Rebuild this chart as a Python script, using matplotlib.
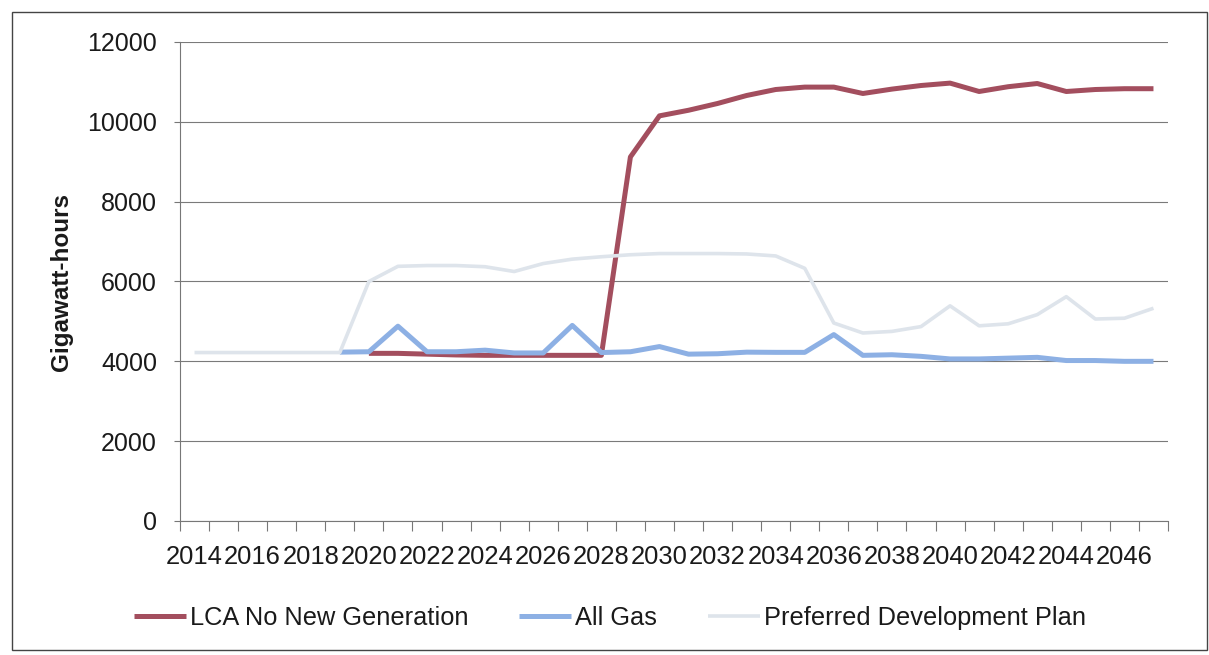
import numpy as np
import matplotlib
matplotlib.use("Agg")
import matplotlib.pyplot as plt
from matplotlib.patches import Rectangle
from matplotlib.ticker import FixedLocator

plt.rcParams["font.family"] = ["Liberation Sans", "DejaVu Sans"]

nan = np.nan
years = list(range(2014, 2048))

lca_no_new_generation = [
    nan, nan, nan, nan, nan, nan,
    4200, 4200, 4180, 4160, 4150, 4150, 4150, 4150, 4150,
    9120, 10150, 10290, 10460, 10660, 10810, 10870, 10870, 10710, 10820,
    10910, 10970, 10760, 10880, 10960, 10760, 10810, 10830, 10830,
]
all_gas = [
    nan, nan, nan, nan, nan,
    4230, 4240, 4880, 4240, 4240, 4280, 4210, 4210, 4900, 4220,
    4240, 4370, 4180, 4190, 4230, 4225, 4225, 4670,
    4150, 4165, 4125, 4060, 4060, 4080, 4100, 4020, 4020, 4000, 4000,
]
preferred_plan = [
    4220, 4220, 4220, 4220, 4220, 4220,
    6000, 6380, 6400, 6400, 6370, 6250, 6450, 6560, 6620,
    6670, 6700, 6700, 6700, 6690, 6640, 6330,
    4960, 4710, 4750, 4870, 5390, 4890, 4940, 5170, 5620, 5060, 5080, 5330,
]
series_names = ["LCA No New Generation", "All Gas", "Preferred Development Plan"]
y_ticks = [0, 2000, 4000, 6000, 8000, 10000, 12000]
x_labels = list(range(2014, 2047, 2))

W, H = 1209, 655
fig = plt.figure(figsize=(W / 100, H / 100), dpi=100)
ax = fig.add_axes([180 / W, 1 - 521 / H, (1168 - 180) / W, (521 - 42) / H])

c_lca = "#A34E5E"
c_gas = "#8DB0E4"
c_pref = "#DEE4EB"

l1, = ax.plot(years, lca_no_new_generation, color=c_lca, lw=3.6, zorder=3,
              solid_joinstyle="round", solid_capstyle="butt")
l2, = ax.plot(years, all_gas, color=c_gas, lw=3.6, zorder=4,
              solid_joinstyle="round", solid_capstyle="butt")
l3, = ax.plot(years, preferred_plan, color=c_pref, lw=2.6, zorder=5,
              solid_joinstyle="round", solid_capstyle="butt")

ax.set_xlim(years[0] - 0.5, years[-1] + 0.5)
ax.set_ylim(y_ticks[0], y_ticks[-1])
ax.set_yticks(y_ticks)
ax.set_yticklabels([str(v) for v in y_ticks])
ax.yaxis.grid(True, color="#7a7a7a", lw=0.8)
ax.set_axisbelow(True)

ax.xaxis.set_major_locator(FixedLocator(x_labels))
ax.set_xticklabels([str(v) for v in x_labels])
ax.xaxis.set_minor_locator(FixedLocator(np.arange(years[0] - 0.5, years[-1] + 1, 1.0)))
ax.tick_params(axis="x", which="major", length=0, pad=17, labelsize=18.4, colors="#1a1a1a")
ax.tick_params(axis="x", which="minor", length=7, width=0.8, color="#777777", direction="out")
ax.tick_params(axis="y", length=4.5, width=0.8, color="#777777", pad=12, labelsize=18,
               labelcolor="#1a1a1a")

for side in ["top", "right"]:
    ax.spines[side].set_visible(False)
for side in ["left", "bottom"]:
    ax.spines[side].set_color("#777777")
    ax.spines[side].set_linewidth(0.8)

ax.set_ylabel("Gigawatt-hours", fontsize=17.5, fontweight="bold", color="#1a1a1a")
ax.yaxis.label.set_va("center")
ax.yaxis.set_label_coords((62 - 180) / 988, 0.498)

fig.legend([l1, l2, l3], series_names, loc="center", bbox_to_anchor=(610 / W, 1 - 618 / H),
           ncol=3, frameon=False, fontsize=18.3, handlelength=2.05, handletextpad=0.16,
           columnspacing=2.0, labelcolor="#1a1a1a")

fig.patches.append(Rectangle((12 / W, 1 - 650 / H), (1207 - 12) / W, (650 - 12) / H,
                             transform=fig.transFigure, fill=False, edgecolor="#444444", lw=1.0))

fig.savefig("out.png", dpi=100, facecolor="white")
